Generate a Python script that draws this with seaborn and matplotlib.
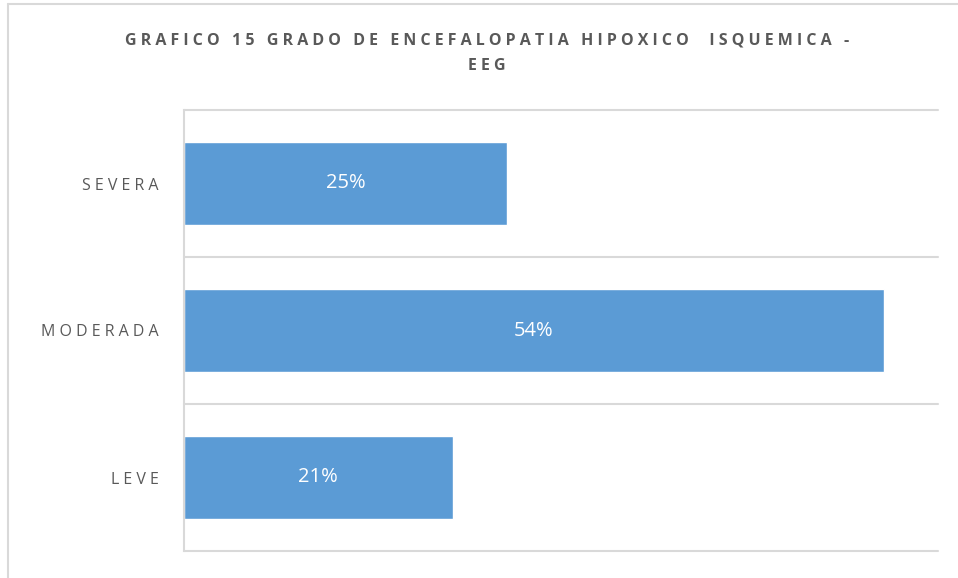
import matplotlib
matplotlib.use("Agg")
import matplotlib.pyplot as plt
import seaborn as sns
import pandas as pd
from matplotlib.lines import Line2D

categorias = ["SEVERA", "MODERADA", "LEVE"]
porcentajes = [25.0, 54.2, 20.8]
etiquetas = ["25%", "54%", "21%"]
titulo = "GRAFICO 15 GRADO DE ENCEFALOPATIA HIPOXICO  ISQUEMICA -\nEEG"

sns.set_style("white")
plt.rcParams["font.family"] = ["Open Sans", "DejaVu Sans"]

gris = "#595959"
linea = "#d9d9d9"
azul = "#5b9bd5"


def espaciar(texto, sep="\u2009"):
    # imita el espaciado de letras de Excel
    return "\n".join(sep.join(l) for l in texto.split("\n"))


df = pd.DataFrame({"categoria": categorias, "porcentaje": porcentajes})

fig = plt.figure(figsize=(9.58, 5.78), dpi=100)
ax = fig.add_axes([184 / 958, 1 - 551 / 578, (938 - 184) / 958, (551 - 110) / 578])

sns.barplot(data=df, x="porcentaje", y="categoria", color=azul, width=0.56,
            saturation=1, ax=ax, orient="h")

ax.set_xlim(0, 58.4)
ax.set_ylim(2.5, -0.5)
for y in [-0.5, 0.5, 1.5, 2.5]:
    ax.axhline(y, color=linea, lw=1.5, zorder=0, clip_on=False)

for i, (v, t) in enumerate(zip(porcentajes, etiquetas)):
    ax.text(v / 2, i, t, color="white", fontsize=14.5, ha="center", va="center")

for s in ["top", "right", "bottom"]:
    ax.spines[s].set_visible(False)
ax.spines["left"].set_color(linea)
ax.spines["left"].set_linewidth(1.5)
ax.set_xticks([])
ax.set_xlabel("")
ax.set_ylabel("")
ax.set_yticks(range(len(categorias)))
ax.set_yticklabels([espaciar(c, " ") for c in categorias], color=gris, fontsize=11.5)
ax.tick_params(axis="y", length=0, pad=18)

fig.text(487 / 958, 1 - 53 / 578, espaciar(titulo, " "), ha="center", va="center",
         fontsize=11.5, fontweight="bold", color=gris, linespacing=1.75)

# marco exterior del grafico
fig.add_artist(Line2D([8 / 958, 8 / 958], [0, 1 - 4 / 578], color=linea, lw=1.5))
fig.add_artist(Line2D([8 / 958, 1], [1 - 4 / 578, 1 - 4 / 578], color=linea, lw=1.5))

fig.savefig("out.png", dpi=100, facecolor="white")
